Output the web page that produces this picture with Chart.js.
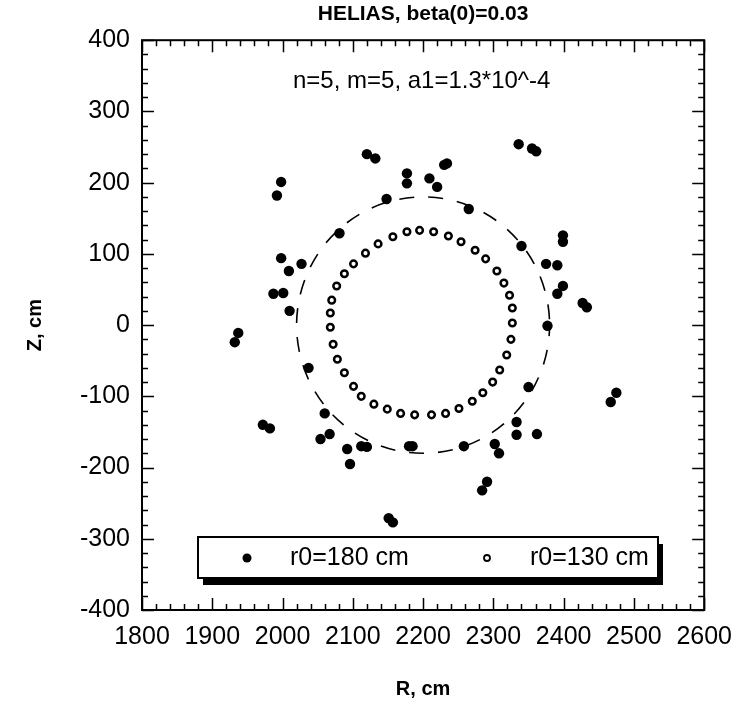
<!DOCTYPE html>
<html><head><meta charset="utf-8">
<script src="https://cdn.jsdelivr.net/npm/chart.js@4/dist/chart.umd.min.js"></script>
<style>html,body{margin:0;padding:0;background:#fff}#wrap{width:744px;height:708px}</style>
</head><body><div id="wrap"><canvas id="c" width="744" height="708"></canvas></div>
<script>
const FONT = "'Liberation Sans', Arial, Helvetica, sans-serif";
const titleText = 'HELIAS, beta(0)=0.03';
const noteText = 'n=5, m=5, a1=1.3*10^-4';
const xAxisTitle = 'R, cm';
const yAxisTitle = 'Z, cm';
const seriesLabels = ['r0=180 cm', 'r0=130 cm'];
const xTickLabels = [1800, 1900, 2000, 2100, 2200, 2300, 2400, 2500, 2600];
const yTickLabels = [-400, -300, -200, -100, 0, 100, 200, 300, 400];

// r0 = 180 cm (filled dots)
const r180_R = [1998, 1992, 2120, 2132, 2177, 2177, 2209, 2220, 2230, 2234,
  2148, 2265, 2081, 2336, 2355, 2361, 2340, 2399, 2399, 2375,
  2391, 2399, 2391, 2427, 2433, 2377, 2350, 2475, 2467, 2333,
  2333, 2362, 2302, 2308, 2258, 2180, 2185, 2112, 2120, 2092,
  2096, 2067, 2054, 2060, 1972, 1982, 2037, 1937, 1932, 2010,
  1987, 2001, 1998, 2009, 2027, 2284, 2291, 2151, 2157];
const r180_Z = [201, 182, 240, 234, 213, 199, 206, 194, 225, 227,
  177, 163, 129, 254, 248, 244, 111, 126, 117, 86,
  84, 55, 44, 31, 25, -1, -87, -95, -108, -136,
  -154, -153, -167, -180, -170, -170, -170, -170, -171, -174,
  -195, -153, -160, -124, -140, -145, -60, -11, -24, 20,
  44, 45, 94, 76, 86, -232, -220, -271, -277];

// r0 = 130 cm (open circles)
const r130_R = [2068, 2070, 2077, 2088, 2101, 2118, 2136, 2157, 2177, 2195,
  2215, 2236, 2254, 2274, 2289, 2305, 2315, 2323, 2327, 2327,
  2325, 2319, 2309, 2299, 2285, 2270, 2251, 2232, 2212, 2188,
  2168, 2149, 2130, 2112, 2101, 2088, 2078, 2072, 2068];
const r130_Z = [17, 35, 55, 72, 86, 101, 114, 124, 131, 133,
  131, 125, 117, 105, 93, 76, 59, 42, 24, 3,
  -20, -42, -63, -80, -95, -107, -117, -124, -126, -126,
  -124, -118, -111, -100, -86, -67, -48, -27, -3];

// dashed initial surface r0 = 180 cm around the axis
const guideCenterR = 2200;
const guideCenterZ = 0;
const guideRadius = 180;

const toPoints = (xs, ys) => xs.map((v, i) => ({x: v, y: ys[i]}));

const whiteBg = {
  id: 'whiteBg',
  beforeDraw(chart) {
    const c = chart.ctx; c.save(); c.fillStyle = '#fff';
    c.fillRect(0, 0, chart.width, chart.height); c.restore();
  }
};

const guide = {
  id: 'guide',
  beforeDatasetsDraw(chart) {
    const {x, y} = chart.scales; const c = chart.ctx;
    const cx = x.getPixelForValue(guideCenterR), cy = y.getPixelForValue(guideCenterZ);
    const rx = x.getPixelForValue(guideCenterR + guideRadius) - cx;
    const ry = cy - y.getPixelForValue(guideCenterZ + guideRadius);
    c.save(); c.setLineDash([15, 14]); c.lineDashOffset = 4; c.lineWidth = 1.6; c.strokeStyle = '#000';
    c.beginPath(); c.ellipse(cx, cy, rx, ry, 0, 0, Math.PI * 2); c.stroke(); c.restore();
  }
};

const frameTicks = {
  id: 'frameTicks',
  afterDatasetsDraw(chart) {
    const {x, y} = chart.scales; const a = chart.chartArea; const c = chart.ctx;
    c.save(); c.strokeStyle = '#000'; c.lineWidth = 1.5;
    for (let v = x.min; v <= x.max + 0.01; v += 20) {
      const px = Math.round(x.getPixelForValue(v)) + 0.5;
      const L = (Math.round(v) % 100 === 0) ? 12 : 6;
      c.beginPath(); c.moveTo(px, a.bottom); c.lineTo(px, a.bottom - L);
      c.moveTo(px, a.top); c.lineTo(px, a.top + L); c.stroke();
    }
    for (let v = y.min; v <= y.max + 0.01; v += 20) {
      const py = Math.round(y.getPixelForValue(v)) + 0.5;
      const L = (Math.round(v) % 100 === 0) ? 12 : 6;
      c.beginPath(); c.moveTo(a.left, py); c.lineTo(a.left + L, py);
      c.moveTo(a.right, py); c.lineTo(a.right - L, py); c.stroke();
    }
    c.lineWidth = 2;
    c.strokeRect(a.left, a.top, a.right - a.left, a.bottom - a.top);
    c.restore();
  }
};

const boxLegend = {
  id: 'boxLegend',
  afterDraw(chart) {
    const a = chart.chartArea; const c = chart.ctx;
    const L = a.left + 56, T = a.bottom - 73, W = 460, H = 41;
    c.save();
    c.fillStyle = '#000'; c.fillRect(L + 5, T + 7, W, H);
    c.fillStyle = '#fff'; c.fillRect(L, T, W, H);
    c.lineWidth = 2; c.strokeStyle = '#000'; c.strokeRect(L, T, W, H);
    const cy = T + 21;
    const ds = chart.data.datasets;
    const markX = [L + 49, L + 289], textX = [L + 92, L + 332];
    ds.forEach((d, i) => {
      c.beginPath(); c.arc(markX[i], cy, i === 0 ? 4.5 : 3, 0, Math.PI * 2);
      if (i === 0) { c.fillStyle = '#000'; c.fill(); }
      else { c.fillStyle = '#fff'; c.fill(); c.lineWidth = 1.8; c.strokeStyle = '#000'; c.stroke(); }
      c.fillStyle = '#000'; c.font = '25px ' + FONT; c.textBaseline = 'middle'; c.textAlign = 'left';
      c.fillText(d.label, textX[i], cy);
    });
    c.font = '24px ' + FONT; c.textBaseline = 'alphabetic'; c.textAlign = 'left';
    c.fillText(noteText, a.left + 151, a.top + 48);
    c.restore();
  }
};

new Chart(document.getElementById('c'), {
  type: 'scatter',
  data: {
    datasets: [
      {label: seriesLabels[0], data: toPoints(r180_R, r180_Z), pointRadius: 5.2, pointHoverRadius: 5.2,
       backgroundColor: '#000', borderColor: '#000', borderWidth: 0, pointStyle: 'circle'},
      {label: seriesLabels[1], data: toPoints(r130_R, r130_Z), pointRadius: 3.3, pointHoverRadius: 3.3,
       backgroundColor: '#fff', borderColor: '#000', borderWidth: 2.5, pointStyle: 'circle'}
    ]
  },
  options: {
    responsive: false, animation: false, devicePixelRatio: 1,
    layout: {padding: {left: 0, right: 33, top: 0, bottom: 0}},
    plugins: {
      legend: {display: false}, tooltip: {enabled: false},
      title: {display: true, text: titleText, fullSize: false, color: '#000',
        font: {family: FONT, size: 21, weight: 'bold'}, padding: {top: 2, bottom: 13}}
    },
    scales: {
      x: {type: 'linear', position: 'bottom', min: xTickLabels[0], max: xTickLabels[xTickLabels.length - 1],
        afterFit(s) { s.height = 98; },
        afterBuildTicks(s) { s.ticks = xTickLabels.map(v => ({value: v})); },
        grid: {display: false, drawTicks: false}, border: {display: false},
        ticks: {color: '#000', font: {family: FONT, size: 25}, padding: 12, maxRotation: 0, autoSkip: false,
          callback: v => String(v)},
        title: {display: true, text: xAxisTitle, color: '#000', font: {family: FONT, size: 20, weight: 'bold'}, padding: {top: 0, bottom: 7}}},
      y: {type: 'linear', position: 'left', min: yTickLabels[0], max: yTickLabels[yTickLabels.length - 1],
        afterFit(s) { s.width = 142; },
        afterBuildTicks(s) { s.ticks = yTickLabels.map(v => ({value: v})); },
        grid: {display: false, drawTicks: false}, border: {display: false},
        ticks: {color: '#000', font: {family: FONT, size: 25}, padding: 12, autoSkip: false,
          callback: v => String(v)},
        title: {display: true, text: yAxisTitle, color: '#000', font: {family: FONT, size: 20, weight: 'bold'}, padding: {top: 23, bottom: 0}}}
    }
  },
  plugins: [whiteBg, guide, frameTicks, boxLegend]
});
</script></body></html>
